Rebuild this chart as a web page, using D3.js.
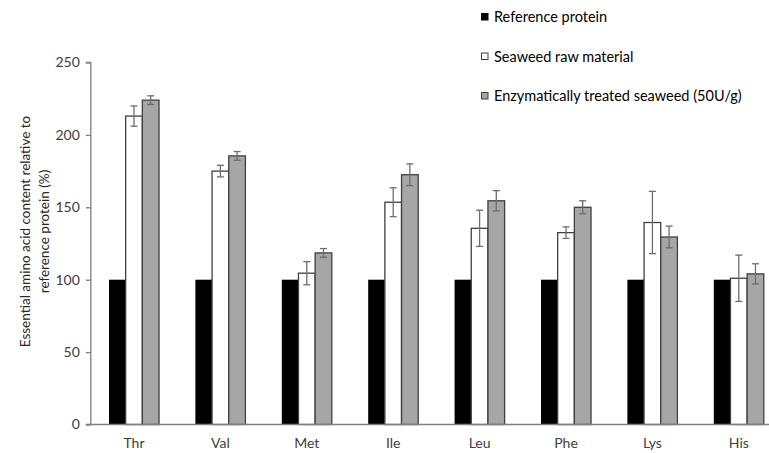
<!DOCTYPE html>
<html>
<head>
<meta charset="utf-8">
<script src="https://cdn.jsdelivr.net/npm/d3@7"></script>
<style>
  html, body { margin: 0; padding: 0; background: #fff; }
  svg { display: block; font-family: Lato, "Open Sans", sans-serif; }
</style>
</head>
<body>
<svg id="chart" width="769" height="453"></svg>
<script>
const categories = ["Thr", "Val", "Met", "Ile", "Leu", "Phe", "Lys", "His"];
const seriesNames = ["Reference protein", "Seaweed raw material", "Enzymatically treated seaweed (50U/g)"];
const referenceValues = [100, 100, 100, 100, 100, 100, 100, 100];
const rawValues = [213, 175, 104.5, 153.5, 135.5, 132.5, 139.5, 101];
const rawErrors = [7, 4, 8, 10, 12.5, 4, 21.5, 16];
const treatedValues = [224, 185.5, 118.5, 172.5, 154.5, 150, 129.5, 104];
const treatedErrors = [3, 3, 3, 7.5, 7, 4.5, 7.5, 7];
const yTicks = [0, 50, 100, 150, 200, 250];

const fills = ["#000000", "#ffffff", "#a6a6a6"];
const strokes = ["#000000", "#404040", "#404040"];

const svg = d3.select("#chart");
const plotLeft = 90.8, plotBottom = 424.5, plotTop = 62.5;
const step = 86.4;
const pad = 0.421;

const x = d3.scaleBand().domain(categories)
  .range([plotLeft, plotLeft + step * categories.length])
  .paddingInner(pad).paddingOuter(pad / 2);
const xs = d3.scaleBand().domain([0, 1, 2]).range([0, x.bandwidth()]);
const y = d3.scaleLinear().domain([0, 250]).range([plotBottom, plotTop]);

const data = categories.map((c, i) => ({
  cat: c,
  vals: [
    { s: 0, v: referenceValues[i], e: null },
    { s: 1, v: rawValues[i], e: rawErrors[i] },
    { s: 2, v: treatedValues[i], e: treatedErrors[i] }
  ]
}));

// bars
const g = svg.append("g");
const groups = g.selectAll("g.grp").data(data).enter().append("g")
  .attr("transform", d => `translate(${x(d.cat)},0)`);
groups.selectAll("rect").data(d => d.vals).enter().append("rect")
  .attr("x", d => xs(d.s))
  .attr("width", xs.bandwidth())
  .attr("y", d => y(d.v))
  .attr("height", d => y(0) - y(d.v))
  .attr("fill", d => fills[d.s])
  .attr("stroke", d => strokes[d.s])
  .attr("stroke-width", d => d.s === 0 ? 0 : 1.3);

// error bars
const eb = groups.selectAll("g.eb").data(d => d.vals.filter(v => v.e != null)).enter().append("g")
  .attr("stroke", "#6e6e6e").attr("stroke-width", 1.3);
eb.append("line")
  .attr("x1", d => xs(d.s) + xs.bandwidth() / 2).attr("x2", d => xs(d.s) + xs.bandwidth() / 2)
  .attr("y1", d => y(d.v + d.e)).attr("y2", d => y(d.v - d.e));
[1, -1].forEach(sg => {
  eb.append("line")
    .attr("x1", d => xs(d.s) + xs.bandwidth() / 2 - 3.5).attr("x2", d => xs(d.s) + xs.bandwidth() / 2 + 3.5)
    .attr("y1", d => y(d.v + sg * d.e)).attr("y2", d => y(d.v + sg * d.e));
});

// y axis
const yAxis = d3.axisLeft(y).tickValues(yTicks).tickSize(5).tickPadding(6);
const ya = svg.append("g").attr("transform", `translate(${plotLeft},0)`).call(yAxis);
ya.select(".domain").attr("stroke", "#7f7f7f").attr("stroke-width", 1.3).attr("d", `M-5,${plotTop}H0V${plotBottom}`);
ya.selectAll(".tick line").attr("stroke", "#7f7f7f").attr("stroke-width", 1.3);
ya.selectAll(".tick text").attr("font-size", 14).attr("fill", "#404040").attr("font-family", "Lato, sans-serif");

// x axis
const xAxis = d3.axisBottom(x).tickSize(0).tickPadding(14);
const xa = svg.append("g").attr("transform", `translate(0,${plotBottom})`).call(xAxis);
xa.select(".domain").attr("stroke", "#7f7f7f").attr("stroke-width", 1.3).attr("d", `M${plotLeft - 5},0H769`);
xa.selectAll(".tick text").attr("font-size", 14).attr("fill", "#404040").attr("font-family", "Lato, sans-serif");

// y title
const yt = svg.append("text")
  .attr("transform", `translate(30,${(plotTop + plotBottom) / 2 - 12}) rotate(-90)`)
  .attr("text-anchor", "middle").attr("font-size", 13.5).attr("fill", "#262626");
yt.append("tspan").attr("x", 0).attr("dy", 0).text("Essential amino acid content relative to");
yt.append("tspan").attr("x", 0).attr("dy", 18.5).text("reference protein (%)");

// legend
const leg = svg.append("g");
const legRows = leg.selectAll("g").data(seriesNames).enter().append("g")
  .attr("transform", (d, i) => `translate(481,${17 + i * 39.5})`);
legRows.append("rect").attr("x", 0.5).attr("y", -3.5).attr("width", 6.5).attr("height", 6.5)
  .attr("fill", (d, i) => fills[i]).attr("stroke", (d, i) => strokes[i]).attr("stroke-width", 1);
legRows.append("text").attr("x", 13).attr("y", 0).attr("dy", "0.35em")
  .attr("font-size", 14.5).attr("fill", "#000").text(d => d);
</script>
</body>
</html>
